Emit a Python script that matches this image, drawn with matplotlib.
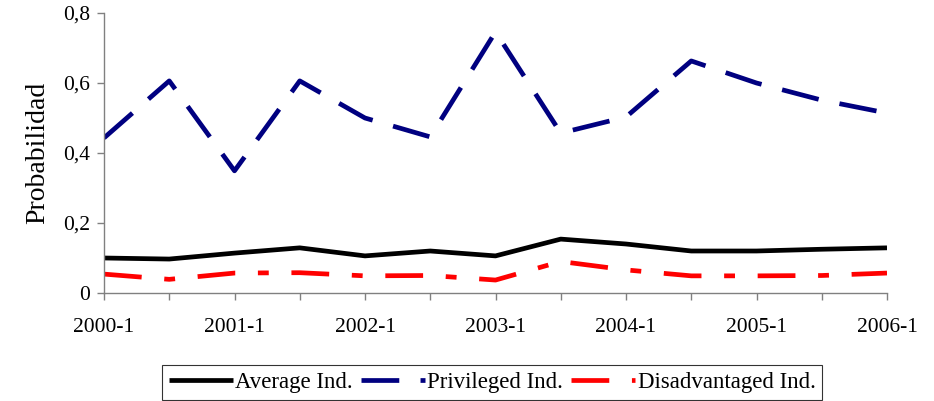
import matplotlib
matplotlib.use("Agg")
import matplotlib.pyplot as plt

periods = ["2000-1", "2000-2", "2001-1", "2001-2", "2002-1", "2002-2", "2003-1",
           "2003-2", "2004-1", "2004-2", "2005-1", "2005-2", "2006-1"]
average = [0.100, 0.097, 0.114, 0.129, 0.106, 0.120, 0.106, 0.154, 0.140, 0.120, 0.120, 0.125, 0.129]
privileged = [0.443, 0.606, 0.349, 0.606, 0.500, 0.446, 0.746, 0.457, 0.503, 0.663, 0.600, 0.551, 0.514]
disadvantaged = [0.054, 0.039, 0.057, 0.058, 0.049, 0.050, 0.037, 0.090, 0.066, 0.049, 0.049, 0.050, 0.057]
yticks = [0, 0.2, 0.4, 0.6, 0.8]
yticklabels = ["0", "0,2", "0,4", "0,6", "0,8"]

plt.rcParams['font.family'] = ['Liberation Serif', 'DejaVu Serif']

fig = plt.figure(figsize=(9.34, 4.01), dpi=100)
ax = fig.add_axes([104/934, 1-293/401, (887-104)/934, (293-13)/401])

x = list(range(len(periods)))
lw = 3.4
ax.plot(x, average, color='black', lw=lw, solid_capstyle='butt', label='Average Ind.')
ax.plot(x, privileged, color='#000080', lw=lw, linestyle=(0, (8, 4.5)),
        dash_capstyle='butt', label='Privileged Ind.')
ax.plot(x, disadvantaged, color='#FF0000', lw=lw, linestyle=(0, (8, 4.8, 2.3, 4.8)),
        dash_capstyle='butt', label='Disadvantaged Ind.')

ax.set_xlim(0, len(periods) - 1)
ax.set_ylim(0, 0.8)
ax.set_xticks(x)
ax.set_xticklabels([p if p.endswith("-1") else "" for p in periods])
ax.set_yticks(yticks)
ax.set_yticklabels(yticklabels)

for s in ['top', 'right']:
    ax.spines[s].set_visible(False)
for s in ['left', 'bottom']:
    ax.spines[s].set_color('#808080')
    ax.spines[s].set_linewidth(1.0)
ax.tick_params(axis='both', direction='out', length=5, width=1.0, color='#808080',
               labelsize=15.5, labelcolor='black')
ax.tick_params(axis='x', pad=13)
ax.tick_params(axis='y', pad=5)
ax.set_ylabel("Probabilidad", fontsize=20, labelpad=9)

leg = fig.legend(loc='upper center', bbox_to_anchor=(492/934, 1-365/401), ncol=3,
                 frameon=True, fancybox=False, fontsize=16.5, handlelength=2.8,
                 handletextpad=0.1, columnspacing=0.35, borderpad=0.3,
                 borderaxespad=0)
leg.get_frame().set_edgecolor('black')
leg.get_frame().set_linewidth(0.8)

fig.savefig("out.png", dpi=100)
